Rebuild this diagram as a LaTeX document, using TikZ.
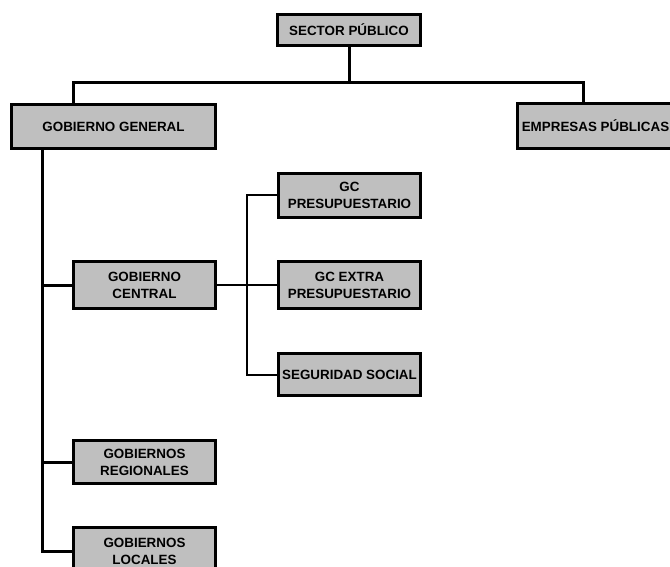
\documentclass[tikz,border=0pt]{standalone}
\usepackage{fontspec}
\setmainfont{Liberation Sans}

\begin{document}
\begin{tikzpicture}[x=1pt, y=-1pt, line width=3pt,
    unidad/.style={draw, fill=black!25, line width=3pt, align=center, inner sep=0pt,
      minimum width=142pt, minimum height=46pt,
      font=\fontsize{13.4}{17}\selectfont\bfseries}]
		\useasboundingbox (0,0) rectangle (670,567);
		% nivel superior
		\node (sp)    [unidad, minimum width=143pt, minimum height=31pt] at (349,30)      {SECTOR PÚBLICO};
		\node (gg)    [unidad, minimum width=204pt, minimum height=44pt] at (113.5,126.5) {GOBIERNO GENERAL};
		\node (ep)    [unidad, minimum width=156pt, minimum height=45pt] at (595.5,126)   {EMPRESAS PÚBLICAS};
		% gobierno general
		\node (gc)    [unidad, minimum height=47pt] at (144.5,285)   {GOBIERNO\\CENTRAL};
		\node (reg)   [unidad, minimum height=43pt] at (144.5,462)   {GOBIERNOS\\REGIONALES};
		\node (loc)   [unidad, minimum height=47pt] at (144.5,551)   {GOBIERNOS\\LOCALES};
		% gobierno central
		\node (pres)  [unidad, minimum height=44pt] at (349.5,195.5) {GC\\PRESUPUESTARIO};
		\node (extra) [unidad, minimum height=47pt] at (349.5,285)   {GC EXTRA\\PRESUPUESTARIO};
		\node (seg)   [unidad, minimum height=42pt] at (349.5,374.5) {SEGURIDAD SOCIAL};
		\coordinate (bus)   at (349,83);
		\coordinate (spine) at (42,0);
		\coordinate (fork)  at (247,0);
		\draw       (sp) -- (bus);
		\draw       ([xshift=-40.5pt]gg.north) |- (bus) -| ([xshift=-12.5pt]ep.north);
		\draw       (gg.south -| spine) |- (loc.west);
		\draw       (gc.west) -- (gc.west -| spine);
		\draw       (reg.west) -- (reg.west -| spine);
		\draw       [line width=2pt] (pres.west) -| (fork |- seg.west) -- (seg.west);
		\draw       [line width=2pt] (gc.east) -- (extra.west);
		\end{tikzpicture}
\end{document}
